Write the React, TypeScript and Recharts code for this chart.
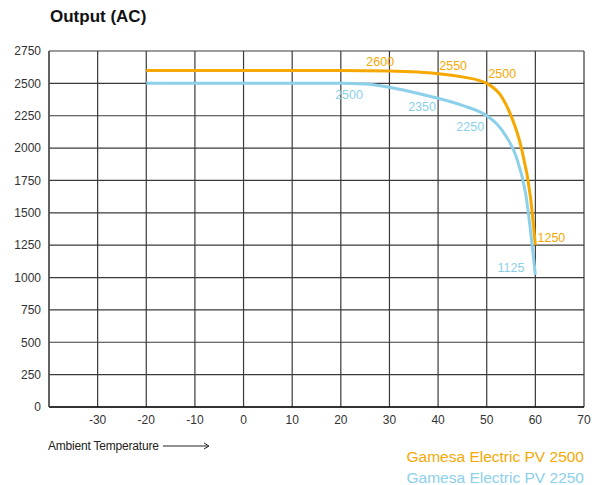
import React from 'react';
import { LineChart, Line, XAxis, YAxis, CartesianGrid, ReferenceDot } from 'recharts';

const ORANGE = '#F6A800';
const BLUE = '#8CD0EA';

const xTicks = [-40, -30, -20, -10, 0, 10, 20, 30, 40, 50, 60, 70];
const yTicks = [0, 250, 500, 750, 1000, 1250, 1500, 1750, 2000, 2250, 2500, 2750];

// Gamesa Electric PV 2500
const pv2500 = [
  { t: -20, v: 2600 },
  { t: 20, v: 2600 },
  { t: 30, v: 2595 },
  { t: 40, v: 2575 },
  { t: 45, v: 2550 },
  { t: 50, v: 2500 },
  { t: 53, v: 2400 },
  { t: 55, v: 2250 },
  { t: 57, v: 2020 },
  { t: 59, v: 1620 },
  { t: 60, v: 1250 },
];

// Gamesa Electric PV 2250
const pv2250 = [
  { t: -20, v: 2500 },
  { t: 20, v: 2500 },
  { t: 25, v: 2495 },
  { t: 30, v: 2470 },
  { t: 35, v: 2430 },
  { t: 40, v: 2385 },
  { t: 45, v: 2330 },
  { t: 50, v: 2250 },
  { t: 52, v: 2190 },
  { t: 54, v: 2090 },
  { t: 56, v: 1940 },
  { t: 58, v: 1650 },
  { t: 60, v: 1020 },
];

// annotation texts, placed in data coordinates
const notes2500 = [
  { t: 28.1, v: 2665, text: '2600' },
  { t: 43.1, v: 2634, text: '2550' },
  { t: 53.2, v: 2572, text: '2500' },
  { t: 63.3, v: 1305, text: '1250' },
];
const notes2250 = [
  { t: 21.7, v: 2410, text: '2500' },
  { t: 36.7, v: 2317, text: '2350' },
  { t: 46.6, v: 2163, text: '2250' },
  { t: 55.0, v: 1074, text: '1125' },
];

const font = '"Liberation Sans", Arial, sans-serif';

export default function App() {
  return (
    <div style={{ position: 'absolute', left: 0, top: 0, width: 606, height: 485, background: '#fff', fontFamily: font }}>
      <div style={{ position: 'absolute', left: 50, top: 7, fontSize: 17, fontWeight: 'bold', color: '#111' }}>
        Output (AC)
      </div>
      <LineChart
        width={606}
        height={485}
        margin={{ top: 51, right: 22, left: 0, bottom: 48 }}
        style={{ position: 'absolute', left: 0, top: 0 }}
      >
        <CartesianGrid stroke="#3a3a3a" strokeWidth={1.2} horizontalValues={yTicks} verticalValues={xTicks} />
        <XAxis
          type="number"
          dataKey="t"
          domain={[-40, 70]}
          ticks={xTicks}
          tickFormatter={(t: number) => (t === -40 ? '' : String(t))}
          tickLine={false}
          axisLine={{ stroke: '#111', strokeWidth: 1.5 }}
          tick={{ fill: '#333', fontSize: 12, fontFamily: font }}
          height={30}
          allowDuplicatedCategory={false}
        />
        <YAxis
          type="number"
          domain={[0, 2750]}
          ticks={yTicks}
          tickLine={false}
          axisLine={{ stroke: '#555', strokeWidth: 1.5 }}
          tick={{ fill: '#333', fontSize: 12, fontFamily: font }}
          width={49}
        />
        <Line
          data={pv2500}
          dataKey="v"
          type="monotone"
          stroke={ORANGE}
          strokeWidth={3}
          dot={false}
          isAnimationActive={false}
        />
        <Line
          data={pv2250}
          dataKey="v"
          type="monotone"
          stroke={BLUE}
          strokeWidth={3}
          dot={false}
          isAnimationActive={false}
        />
        {notes2500.map((n) => (
          <ReferenceDot
            key={'o' + n.text}
            x={n.t}
            y={n.v}
            r={0}
            fill="none"
            stroke="none"
            ifOverflow="visible"
            label={{ value: n.text, position: 'center', fill: ORANGE, fontSize: 12.5, fontFamily: font }}
          />
        ))}
        {notes2250.map((n) => (
          <ReferenceDot
            key={'b' + n.text}
            x={n.t}
            y={n.v}
            r={0}
            fill="none"
            stroke="none"
            ifOverflow="visible"
            label={{ value: n.text, position: 'center', fill: BLUE, fontSize: 12.5, fontFamily: font }}
          />
        ))}
      </LineChart>
      <div style={{ position: 'absolute', left: 48, top: 439, fontSize: 12, color: '#222', display: 'flex', alignItems: 'center' }}>
        <span style={{ letterSpacing: -0.2 }}>Ambient Temperature</span>
        <svg width={47} height={8} style={{ marginLeft: 4 }}>
          <line x1={0} y1={4} x2={45} y2={4} stroke="#222" strokeWidth={1} />
          <path d="M41,1 L46,4 L41,7" fill="none" stroke="#222" strokeWidth={1} />
        </svg>
      </div>
      <div style={{ position: 'absolute', right: 22, top: 446, fontSize: 15.5, color: ORANGE, textAlign: 'right', lineHeight: '21px' }}>
        Gamesa Electric PV 2500
        <div style={{ color: BLUE }}>Gamesa Electric PV 2250</div>
      </div>
    </div>
  );
}
